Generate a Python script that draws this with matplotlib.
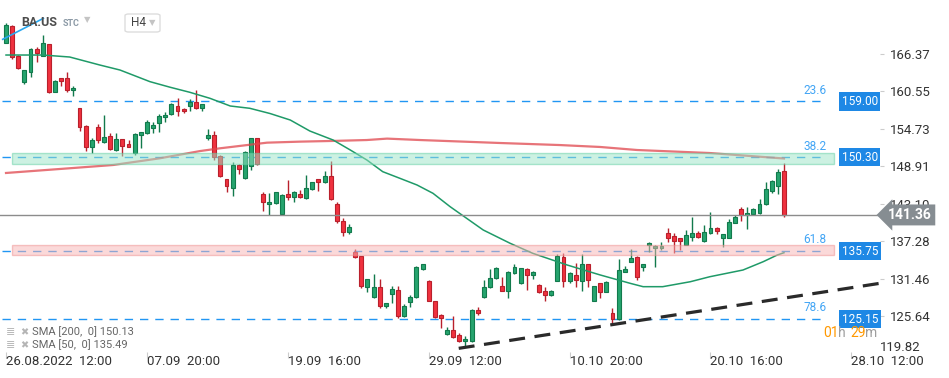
import matplotlib.pyplot as plt
from matplotlib.patches import Rectangle, FancyBboxPatch
import numpy as np

plt.rcParams['font.family'] = ['Roboto', 'DejaVu Sans']

# ---- data: H4 candles of BA.US ----
opens = [168.12, 170.72, 166.10, 162.07, 163.62, 167.19, 166.10, 167.88, 160.51, 162.59,
         162.69, 160.77, 157.93, 155.18, 151.96, 155.02, 152.65, 153.62, 151.45, 153.11,
         152.41, 150.98, 153.78, 154.05, 154.91, 155.69, 156.52, 156.99, 158.29, 157.78,
         158.24, 158.87, 157.93, 153.27, 153.78, 150.56, 146.94, 145.59, 149.12, 147.06,
         149.01, 153.27, 144.56, 143.01, 143.17, 141.46, 144.56, 144.19, 144.56, 143.94,
         145.34, 146.94, 146.52, 147.41, 143.06, 140.41, 138.75, 135.65, 134.98, 130.21,
         128.56, 130.11, 127.25, 129.03, 129.69, 125.69, 127.88, 128.65, 132.91, 131.14,
         127.98, 125.81, 122.81, 123.48, 122.70, 121.77, 121.82, 126.59, 128.56, 130.21,
         131.51, 130.32, 129.59, 132.29, 130.83, 132.91, 132.02, 130.47, 129.54, 128.87,
         131.14, 134.78, 131.14, 132.02, 131.14, 133.73, 128.03, 130.74, 129.43, 126.07,
         125.14, 132.54, 134.09, 134.78, 133.22, 136.69, 136.17, 136.27, 138.50, 138.09,
         137.77, 136.69, 137.98, 138.50, 137.36, 138.60, 139.38, 137.82, 137.82, 140.15,
         142.23, 141.35, 141.46, 141.61, 143.06, 145.12, 145.90, 148.18]
highs = [171.18, 170.87, 166.20, 163.95, 167.30, 167.46, 169.32, 167.92, 162.33, 162.64,
         163.52, 161.45, 158.05, 155.38, 153.36, 155.49, 156.89, 154.14, 154.05, 153.16,
         153.00, 154.09, 154.32, 156.04, 155.85, 157.04, 157.31, 158.80, 159.48, 157.91,
         159.33, 160.77, 158.67, 154.67, 154.40, 150.67, 147.02, 149.63, 149.20, 151.29,
         153.39, 153.39, 144.87, 144.72, 145.00, 144.54, 146.79, 145.08, 145.23, 147.56,
         146.55, 147.02, 148.23, 149.67, 143.32, 140.84, 139.95, 136.06, 135.05, 131.48,
         132.18, 131.36, 127.67, 130.32, 130.32, 127.52, 128.91, 133.42, 133.81, 131.25,
         128.06, 125.89, 123.99, 125.69, 123.01, 122.55, 126.74, 127.01, 131.25, 132.91,
         133.27, 131.77, 132.57, 133.69, 133.19, 133.04, 132.57, 130.55, 130.21, 129.62,
         135.29, 135.49, 132.54, 133.94, 135.29, 133.81, 130.39, 130.86, 131.05, 126.85,
         134.51, 133.42, 136.02, 134.91, 133.81, 137.20, 136.61, 137.20, 139.28, 138.50,
         137.85, 139.02, 140.99, 138.86, 139.80, 141.77, 139.49, 138.47, 140.68, 141.35,
         142.54, 142.54, 142.36, 143.79, 146.52, 146.79, 148.45, 149.38]
lows = [168.05, 165.59, 164.10, 161.66, 162.84, 165.08, 166.05, 160.31, 160.46, 161.45,
        160.41, 159.89, 154.45, 151.22, 151.03, 152.49, 152.54, 151.45, 151.29, 150.52,
        151.84, 150.67, 151.76, 153.86, 154.14, 154.24, 155.85, 156.89, 156.78, 157.25,
        157.56, 157.82, 157.56, 153.00, 149.90, 147.21, 144.97, 144.33, 147.67, 146.94,
        148.34, 149.12, 142.02, 141.35, 143.06, 141.35, 143.68, 143.41, 143.99, 143.76,
        145.23, 145.12, 146.39, 143.68, 140.15, 138.13, 138.35, 134.67, 129.96, 129.43,
        128.45, 126.94, 126.94, 127.72, 125.38, 125.57, 127.10, 128.52, 132.80, 127.91,
        125.41, 123.74, 122.70, 122.31, 121.69, 120.78, 121.69, 125.76, 128.45, 130.08,
        131.40, 129.47, 128.40, 132.18, 130.70, 129.69, 131.36, 129.23, 128.03, 128.76,
        131.02, 130.21, 130.83, 130.21, 129.59, 130.21, 127.91, 128.40, 129.31, 124.26,
        124.99, 132.42, 133.97, 131.25, 132.64, 135.65, 133.32, 135.91, 137.20, 135.52,
        135.88, 136.61, 137.36, 137.77, 137.23, 138.47, 138.40, 136.42, 137.70, 140.03,
        140.46, 139.17, 141.35, 141.50, 142.98, 144.81, 144.61, 141.10]
closes = [170.87, 165.90, 164.15, 163.88, 167.10, 166.48, 168.07, 160.41, 162.17, 162.17,
          160.72, 161.13, 154.98, 151.87, 153.00, 153.00, 153.47, 151.56, 153.11, 152.12,
          151.96, 153.93, 154.20, 155.85, 155.41, 156.73, 156.89, 158.60, 157.56, 157.47,
          158.87, 157.93, 158.60, 153.78, 150.44, 147.45, 145.85, 149.12, 148.45, 151.14,
          153.27, 149.23, 143.41, 143.37, 144.87, 144.46, 144.19, 144.97, 144.10, 145.49,
          146.43, 146.52, 147.41, 143.79, 140.46, 138.75, 139.44, 134.78, 130.36, 131.36,
          130.11, 127.25, 127.62, 129.80, 125.69, 127.21, 128.65, 133.22, 133.69, 128.03,
          125.54, 125.39, 123.48, 122.44, 121.77, 122.03, 126.59, 126.07, 130.21, 131.60,
          133.06, 129.59, 132.45, 133.22, 133.06, 132.02, 132.45, 129.34, 128.87, 129.54,
          134.98, 131.14, 132.29, 131.25, 133.73, 131.25, 130.32, 129.43, 130.94, 125.14,
          132.80, 133.00, 134.62, 131.77, 133.69, 136.95, 136.53, 136.53, 137.72, 137.36,
          137.30, 138.19, 138.50, 137.88, 138.76, 139.38, 138.86, 138.35, 140.31, 141.09,
          141.35, 141.61, 142.23, 143.06, 145.34, 146.68, 147.98, 141.36]

# moving averages, read at a few candle positions
sma200_idx = [0, 8.8, 17.5, 25.1, 31.7, 34.9, 37.1, 42.6, 48, 53.4, 58.9, 62.2, 67.6,
              80.6, 90.4, 97, 103, 114.9, 127]
sma200_val = [147.88, 148.50, 149.12, 150.16, 151.29, 151.71, 151.96, 152.59, 152.75,
              152.86, 153.00, 153.22, 153.00, 152.54, 152.22, 151.92, 151.45, 150.98, 150.13]
sma50_idx = [0, 6, 10.4, 15.3, 18.6, 23.5, 26.8, 30, 33.3, 36.6, 39.8, 43.1, 46.4, 49.6,
             53.4, 56.2, 58.9, 61.5, 64.3, 67.1, 69.7, 72.5, 77.9, 82.3, 86.0, 91.6, 97.0,
             101.9, 104, 107.2, 111.7, 114.9, 120.3, 123.6, 125.9, 127]
sma50_val = [166.21, 166.21, 165.90, 164.66, 163.88, 162.07, 161.20, 160.42, 159.48, 158.29,
             157.93, 157.12, 156.11, 154.40, 153.00, 151.45, 149.90, 148.08, 147.05, 146.01,
             144.72, 142.64, 139.02, 136.95, 135.39, 133.58, 132.03, 130.73, 130.21, 130.21,
             130.98, 131.76, 132.80, 134.09, 135.13, 135.49]

fib_levels = [159.00, 150.30, 135.75, 125.15]
fib_names = ['23.6', '38.2', '61.8', '78.6']
green_zone = (149.35, 150.91)
red_zone = (135.10, 136.69)
last_price = 141.36
trend_idx = [73.9, 142.7]
trend_val = [120.63, 130.74]
blue_idx = [-0.54, 6.1]
blue_val = [168.65, 171.91]

y_ticks = [166.37, 160.55, 154.73, 148.91, 143.10, 137.28, 131.46, 125.64]
y_bottom_label = 119.82
x_tick_idx = [0, 23, 46, 69, 92, 115, 138]
x_tick_labels = ['26.08.2022  12:00', '07.09  20:00', '19.09  16:00', '29.09  12:00',
                 '10.10  20:00', '20.10  16:00', '28.10  12:00']

# ---- figure ----
W, H = 949, 378
fig = plt.figure(figsize=(W / 100, H / 100), dpi=100)
ax = fig.add_axes([0, 26 / H, 880 / W, 352 / H])


def px(x, y):
    return x / W, 1 - y / H


GREEN, GREEN_EDGE = '#26a46e', '#127a4c'
RED, RED_EDGE = '#f0313f', '#b9202c'

x = np.arange(len(opens))
o = np.array(opens)
c = np.array(closes)
up = c >= o
fill = np.where(up, GREEN, RED)
edge = np.where(up, GREEN_EDGE, RED_EDGE)
body_lo = np.minimum(o, c)
body_h = np.maximum(np.abs(c - o), 0.12)

ax.vlines(x, lows, highs, colors=edge, lw=1, zorder=2)
ax.bar(x, body_h, bottom=body_lo, width=0.64, color=fill, edgecolor=edge,
       linewidth=0.8, zorder=3)

ax.plot(sma200_idx, sma200_val, color='#e0454c', lw=1.6, alpha=0.75, zorder=4)
ax.plot(sma50_idx, sma50_val, color='#1f9a68', lw=1.1, zorder=4)

# fibonacci levels
for lvl, name in zip(fib_levels, fib_names):
    ax.hlines(lvl, -0.65, 134.0, colors='#2196f3', lw=1, linestyles=(0, (6, 5)), zorder=1)
    ax.text(132.1, lvl + 0.75, name, color='#42a5f5', fontsize=8.5, ha='center',
            va='bottom', zorder=6)
    ax.text(0.977, lvl, f'{lvl:.2f}', transform=ax.get_yaxis_transform(), color='white',
            fontsize=8.5, ha='center', va='center', zorder=8,
            bbox=dict(boxstyle='square,pad=0.22', fc='#1e88e5', ec='none'))

ax.add_patch(Rectangle((0.98, green_zone[0]), 134.2, green_zone[1] - green_zone[0],
                       fc='#9be5c7', ec='#63cfa4', lw=1, alpha=0.5, zorder=5))
ax.add_patch(Rectangle((0.98, red_zone[0]), 134.2, red_zone[1] - red_zone[0],
                       fc='#f9b5b5', ec='#ee8f8f', lw=1, alpha=0.5, zorder=5))

ax.axhline(last_price, color='#8c8c8c', lw=1, zorder=4)
ax.text(1.034, last_price, f'{last_price:.2f}', transform=ax.get_yaxis_transform(),
        color='white', fontsize=10, fontweight='bold', ha='center', va='center',
        clip_on=False, zorder=8,
        bbox=dict(boxstyle='larrow,pad=0.25', fc='#868d92', ec='none'))

ax.plot(trend_idx, trend_val, color='#2a2a2a', lw=2.3, dashes=(5, 3), zorder=6)
ax.plot(blue_idx, blue_val, color='#29a8f0', lw=1.2, zorder=6)

# axes
ax.set_xlim(-0.98, 142.67)
ax.set_ylim(120.06, 174.76)
for s in ax.spines.values():
    s.set_visible(False)
ax.yaxis.tick_right()
ax.set_yticks(y_ticks)
ax.set_yticklabels([f'{v:.2f}' for v in y_ticks])
ax.tick_params(axis='y', length=3, pad=4, color='#cccccc', labelcolor='#333333',
               labelsize=9.5)
ax.text(1.0, y_bottom_label, f'{y_bottom_label:.2f}', transform=ax.get_yaxis_transform(),
        color='#333333', fontsize=9.5, ha='left', va='bottom', clip_on=False)
ax.set_xticks(x_tick_idx)
ax.set_xticklabels(x_tick_labels)
ax.tick_params(axis='x', length=4, pad=-2, color='#cccccc', labelcolor='#333333',
               labelsize=9.5)
for lbl in ax.get_xticklabels():
    lbl.set_ha('left')

# header
fig.text(*px(21, 23), 'BA.US', fontsize=9, fontweight='bold', color='#4d4d4d', va='center')
fig.text(*px(63, 24), 'STC', fontsize=6.5, fontweight='bold', color='#8c9aa6', va='center')
fig.text(*px(84, 20), '▼', fontsize=6, color='#c4c4c4', va='center')
fig.patches.append(FancyBboxPatch(px(125, 32), 35 / W, 18 / H, transform=fig.transFigure,
                                  boxstyle='round,pad=0,rounding_size=0.004',
                                  fc='white', ec='#dddddd', lw=1))
fig.text(*px(131, 23), 'H4', fontsize=8.5, color='#444444', va='center')
fig.text(*px(149, 23), '▼', fontsize=6, color='#c4c4c4', va='center')

# legend
for yy, txt in [(332, 'SMA [200,  0] 150.13'), (345, 'SMA [50,  0] 135.49')]:
    fig.text(*px(6, yy), '≣', fontsize=8, color='#b5b5b5', va='center')
    fig.text(*px(20, yy), '✖', fontsize=7, color='#b5b5b5', va='center',
             family='DejaVu Sans')
    fig.text(*px(32, yy), txt, fontsize=8, color='#666666', va='center')

# countdown
for xx, txt, col in [(823, '01', '#ff9800'), (838, 'h', '#9e9e9e'),
                     (850, '29', '#ff9800'), (865, 'm', '#9e9e9e')]:
    fig.text(*px(xx, 333), txt, fontsize=10, color=col, va='center')

fig.savefig('out.png', dpi=100)
